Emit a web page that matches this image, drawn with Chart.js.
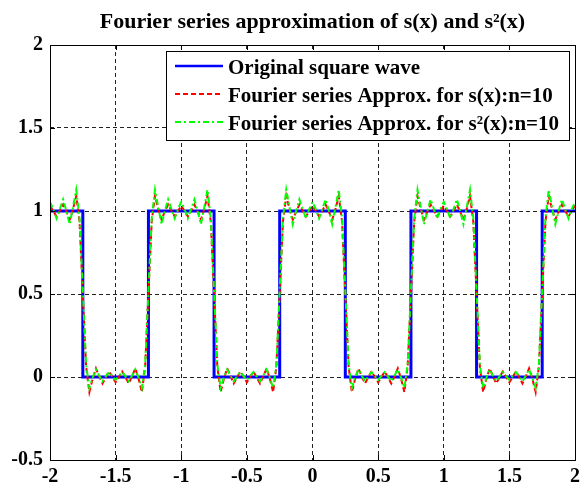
<!DOCTYPE html>
<html><head><meta charset="utf-8">
<script src="https://cdn.jsdelivr.net/npm/chart.js@4.4.1/dist/chart.umd.min.js"></script>
<style>html,body{margin:0;padding:0;background:#fff;}</style>
</head><body>
<canvas id="c" width="585" height="487"></canvas>
<script>
const chartTitle = 'Fourier series approximation of s(x) and s\u00B2(x)';
const seriesNames = ['Original square wave', 'Fourier series Approx. for s(x):n=10', 'Fourier series Approx. for s\u00B2(x):n=10'];
const xTicks = [-2, -1.5, -1, -0.5, 0, 0.5, 1, 1.5, 2];
const yTicks = [-0.5, 0, 0.5, 1, 1.5, 2];

const squareX = [-2, -1.75, -1.75, -1.25, -1.25, -0.75, -0.75, -0.25, -0.25, 0.25, 0.25, 0.75, 0.75, 1.25, 1.25, 1.75, 1.75, 2];
const squareY = [1, 1, 0, 0, 1, 1, 0, 0, 1, 1, 0, 0, 1, 1, 0, 0, 1, 1];

const sampleX = [
-2, -1.975, -1.95, -1.925, -1.9, -1.875, -1.85, -1.825, -1.8, -1.775, -1.75, -1.725, -1.7, -1.675, -1.65, -1.625, -1.6, -1.575, -1.55, -1.525, -1.5, -1.475, -1.45, -1.425, -1.4, -1.375, -1.35, -1.325, -1.3, -1.275, -1.25, -1.225, -1.2, -1.175, -1.15, -1.125, -1.1, -1.075, -1.05, -1.025,
-1, -0.975, -0.95, -0.925, -0.9, -0.875, -0.85, -0.825, -0.8, -0.775, -0.75, -0.725, -0.7, -0.675, -0.65, -0.625, -0.6, -0.575, -0.55, -0.525, -0.5, -0.475, -0.45, -0.425, -0.4, -0.375, -0.35, -0.325, -0.3, -0.275, -0.25, -0.225, -0.2, -0.175, -0.15, -0.125, -0.1, -0.075, -0.05, -0.025,
0, 0.025, 0.05, 0.075, 0.1, 0.125, 0.15, 0.175, 0.2, 0.225, 0.25, 0.275, 0.3, 0.325, 0.35, 0.375, 0.4, 0.425, 0.45, 0.475, 0.5, 0.525, 0.55, 0.575, 0.6, 0.625, 0.65, 0.675, 0.7, 0.725, 0.75, 0.775, 0.8, 0.825, 0.85, 0.875, 0.9, 0.925, 0.95, 0.975,
1, 1.025, 1.05, 1.075, 1.1, 1.125, 1.15, 1.175, 1.2, 1.225, 1.25, 1.275, 1.3, 1.325, 1.35, 1.375, 1.4, 1.425, 1.45, 1.475, 1.5, 1.525, 1.55, 1.575, 1.6, 1.625, 1.65, 1.675, 1.7, 1.725, 1.75, 1.775, 1.8, 1.825, 1.85, 1.875, 1.9, 1.925, 1.95, 1.975,
2];

const approxS = [
1.032, 1.000, 0.967, 1.002, 1.039, 0.996, 0.948, 1.011, 1.091, 0.937, 0.500, 0.063, -0.091, -0.011, 0.052, 0.004, -0.039, -0.002, 0.033, 0.000, -0.032, 0.000, 0.033, -0.002, -0.039, 0.004, 0.052, -0.011, -0.091, 0.063, 0.500, 0.937, 1.091, 1.011, 0.948, 0.996, 1.039, 1.002, 0.967, 1.000,
1.032, 1.000, 0.967, 1.002, 1.039, 0.996, 0.948, 1.011, 1.091, 0.937, 0.500, 0.063, -0.091, -0.011, 0.052, 0.004, -0.039, -0.002, 0.033, 0.000, -0.032, 0.000, 0.033, -0.002, -0.039, 0.004, 0.052, -0.011, -0.091, 0.063, 0.500, 0.937, 1.091, 1.011, 0.948, 0.996, 1.039, 1.002, 0.967, 1.000,
1.032, 1.000, 0.967, 1.002, 1.039, 0.996, 0.948, 1.011, 1.091, 0.937, 0.500, 0.063, -0.091, -0.011, 0.052, 0.004, -0.039, -0.002, 0.033, 0.000, -0.032, 0.000, 0.033, -0.002, -0.039, 0.004, 0.052, -0.011, -0.091, 0.063, 0.500, 0.937, 1.091, 1.011, 0.948, 0.996, 1.039, 1.002, 0.967, 1.000,
1.032, 1.000, 0.967, 1.002, 1.039, 0.996, 0.948, 1.011, 1.091, 0.937, 0.500, 0.063, -0.091, -0.011, 0.052, 0.004, -0.039, -0.002, 0.033, 0.000, -0.032, 0.000, 0.033, -0.002, -0.039, 0.004, 0.052, -0.011, -0.091, 0.063, 0.500, 0.937, 1.091, 1.011, 0.948, 0.996, 1.039, 1.002, 0.967, 1.000,
1.032];

const approxS2 = [
1.055, 1.012, 0.955, 1.012, 1.070, 1.000, 0.920, 1.022, 1.128, 0.958, 0.520, 0.075, -0.066, -0.004, 0.046, 0.008, -0.026, 0.004, 0.030, 0.006, -0.018, 0.006, 0.030, 0.004, -0.026, 0.008, 0.046, -0.004, -0.066, 0.075, 0.520, 0.958, 1.128, 1.022, 0.920, 1.000, 1.070, 1.012, 0.955, 1.012,
1.055, 1.012, 0.955, 1.012, 1.070, 1.000, 0.920, 1.022, 1.128, 0.958, 0.520, 0.075, -0.066, -0.004, 0.046, 0.008, -0.026, 0.004, 0.030, 0.006, -0.018, 0.006, 0.030, 0.004, -0.026, 0.008, 0.046, -0.004, -0.066, 0.075, 0.520, 0.958, 1.128, 1.022, 0.920, 1.000, 1.070, 1.012, 0.955, 1.012,
1.055, 1.012, 0.955, 1.012, 1.070, 1.000, 0.920, 1.022, 1.128, 0.958, 0.520, 0.075, -0.066, -0.004, 0.046, 0.008, -0.026, 0.004, 0.030, 0.006, -0.018, 0.006, 0.030, 0.004, -0.026, 0.008, 0.046, -0.004, -0.066, 0.075, 0.520, 0.958, 1.128, 1.022, 0.920, 1.000, 1.070, 1.012, 0.955, 1.012,
1.055, 1.012, 0.955, 1.012, 1.070, 1.000, 0.920, 1.022, 1.128, 0.958, 0.520, 0.075, -0.066, -0.004, 0.046, 0.008, -0.026, 0.004, 0.030, 0.006, -0.018, 0.006, 0.030, 0.004, -0.026, 0.008, 0.046, -0.004, -0.066, 0.075, 0.520, 0.958, 1.128, 1.022, 0.920, 1.000, 1.070, 1.012, 0.955, 1.012,
1.055];

const SERIF = '"Liberation Serif", "Times New Roman", serif';

const framePlugin = {
  id: 'frameAndLegend',
  afterDatasetsDraw(chart) {
    const {ctx, chartArea: a, scales} = chart;
    const x = scales.x, y = scales.y;
    ctx.save();
    ctx.setLineDash([]);
    ctx.strokeStyle = '#000';
    ctx.lineWidth = 1;
    ctx.beginPath();
    xTicks.forEach(v => {
      const px = Math.round(x.getPixelForValue(v)) + 0.5;
      ctx.moveTo(px, a.top); ctx.lineTo(px, a.top + 5);
      ctx.moveTo(px, a.bottom); ctx.lineTo(px, a.bottom - 5);
    });
    yTicks.forEach(v => {
      const py = Math.round(y.getPixelForValue(v)) + 0.5;
      ctx.moveTo(a.left, py); ctx.lineTo(a.left + 5, py);
      ctx.moveTo(a.right, py); ctx.lineTo(a.right - 5, py);
    });
    ctx.stroke();
    ctx.strokeRect(Math.round(a.left) + 0.5, Math.round(a.top) + 0.5, Math.round(a.right - a.left), Math.round(a.bottom - a.top));

    // legend box
    const L = 166.5, T = 51.5, W = 403, H = 89;
    ctx.fillStyle = '#fff';
    ctx.fillRect(L, T, W, H);
    ctx.strokeRect(L, T, W, H);
    chart.data.datasets.forEach((ds, i) => {
      const base = 74 + 28 * i;
      const ly = base - 8;
      ctx.save();
      ctx.strokeStyle = ds.borderColor;
      ctx.lineWidth = Math.min(ds.borderWidth, 2.5);
      ctx.setLineDash(ds.borderDash || []);
      ctx.beginPath();
      ctx.moveTo(175, ly); ctx.lineTo(223, ly);
      ctx.stroke();
      ctx.restore();
      ctx.fillStyle = '#000';
      ctx.font = 'bold 21px ' + SERIF;
      ctx.textAlign = 'left';
      ctx.textBaseline = 'alphabetic';
      ctx.fillText(ds.label, 228, base);
    });

    // title, centred over the plot area
    ctx.fillStyle = '#000';
    ctx.font = 'bold 22px ' + SERIF;
    ctx.textAlign = 'center';
    ctx.textBaseline = 'alphabetic';
    ctx.fillText(chartTitle, (a.left + a.right) / 2, 28);
    ctx.restore();
  }
};

const tickFont = {family: SERIF, size: 20, weight: 'bold'};

new Chart(document.getElementById('c'), {
  type: 'line',
  data: {
    datasets: [
      {label: seriesNames[0], data: squareX.map((v, i) => ({x: v, y: squareY[i]})), borderColor: '#0000ff', borderWidth: 3, order: 3},
      {label: seriesNames[1], data: sampleX.map((v, i) => ({x: v, y: approxS[i]})), borderColor: '#ff0000', borderWidth: 2, borderDash: [5, 3], order: 2},
      {label: seriesNames[2], data: sampleX.map((v, i) => ({x: v, y: approxS2[i]})), borderColor: '#00ff00', borderWidth: 2, borderDash: [6, 3, 2, 3], order: 1}
    ]
  },
  options: {
    responsive: false,
    animation: false,
    events: [],
    layout: {padding: {left: 0, right: 9, top: 45, bottom: 0}},
    elements: {point: {radius: 0}, line: {tension: 0, fill: false}},
    scales: {
      x: {
        type: 'linear', min: -2, max: 2,
        afterBuildTicks: s => { s.ticks = xTicks.map(v => ({value: v})); },
        afterFit: s => { s.height = 27; },
        ticks: {font: tickFont, color: '#000', padding: 5, maxRotation: 0, autoSkip: false, callback: v => String(v)},
        grid: {color: '#222', lineWidth: 1, drawTicks: false},
        border: {display: false, dash: [4, 3]}
      },
      y: {
        type: 'linear', min: -0.5, max: 2,
        afterBuildTicks: s => { s.ticks = yTicks.map(v => ({value: v})); },
        afterFit: s => { s.width = 50; },
        ticks: {font: tickFont, color: '#000', padding: 7, autoSkip: false, callback: v => String(v)},
        grid: {color: '#222', lineWidth: 1, drawTicks: false},
        border: {display: false, dash: [4, 3]}
      }
    },
    plugins: {
      legend: {display: false},
      tooltip: {enabled: false},
      title: {display: false}
    }
  },
  plugins: [framePlugin]
});
</script>
</body></html>
